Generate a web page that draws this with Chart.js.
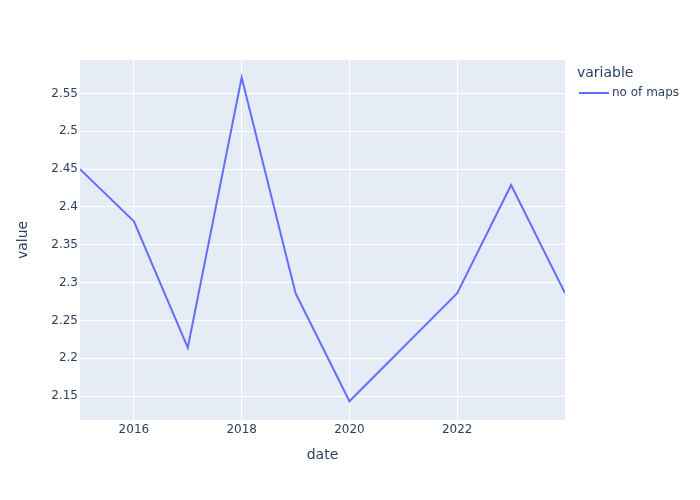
<!DOCTYPE html>
<html>
<head>
<meta charset="utf-8">
<script src="https://cdn.jsdelivr.net/npm/chart.js@4/dist/chart.umd.min.js"></script>
<style>
  html, body { margin: 0; padding: 0; background: #fff; }
  #wrap { width: 700px; height: 500px; position: relative; }
</style>
</head>
<body>
<div id="wrap"><canvas id="c" width="700" height="500"></canvas></div>
<script>
const years = [2015, 2016, 2017, 2018, 2019, 2020, 2022, 2023, 2024];
const noOfMaps = [2.45, 2.381, 2.214, 2.571, 2.286, 2.143, 2.286, 2.429, 2.286];
const xTicks = [2016, 2018, 2020, 2022];
const yTicks = [2.15, 2.2, 2.25, 2.3, 2.35, 2.4, 2.45, 2.5, 2.55];
const seriesName = 'no of maps';
const legendTitle = 'variable';
const xTitle = 'date';
const yTitle = 'value';

const FONT = '"DejaVu Sans", "Open Sans", sans-serif';
const TEXT = '#2a3f5f';

const deco = {
  id: 'deco',
  beforeDraw(chart) {
    const { ctx, chartArea: a } = chart;
    ctx.save();
    ctx.fillStyle = '#E5ECF6';
    ctx.fillRect(a.left, a.top, a.right - a.left, a.bottom - a.top);
    ctx.restore();
  },
  afterDraw(chart) {
    const { ctx, chartArea: a } = chart;
    ctx.save();
    ctx.fillStyle = TEXT;
    ctx.font = '14px ' + FONT;
    ctx.textAlign = 'center';
    ctx.textBaseline = 'middle';
    ctx.fillText(xTitle, (a.left + a.right) / 2, 455);
    ctx.save();
    ctx.translate(23, (a.top + a.bottom) / 2);
    ctx.rotate(-Math.PI / 2);
    ctx.fillText(yTitle, 0, 0);
    ctx.restore();
    // legend
    ctx.textAlign = 'left';
    ctx.font = '14px ' + FONT;
    ctx.fillText(legendTitle, 577, 73);
    const ds = chart.data.datasets[0];
    ctx.strokeStyle = ds.borderColor;
    ctx.lineWidth = 2;
    ctx.beginPath();
    ctx.moveTo(579, 93);
    ctx.lineTo(609, 93);
    ctx.stroke();
    ctx.font = '12px ' + FONT;
    ctx.fillText(ds.label, 612, 93);
    ctx.restore();
  }
};

new Chart(document.getElementById('c'), {
  type: 'line',
  data: {
    datasets: [{
      label: seriesName,
      data: years.map((y, i) => ({ x: y, y: noOfMaps[i] })),
      borderColor: '#636efa',
      backgroundColor: '#636efa',
      borderWidth: 2,
      pointRadius: 0,
      tension: 0,
      fill: false
    }]
  },
  options: {
    responsive: false,
    animation: false,
    devicePixelRatio: 1,
    layout: { padding: { left: 0, right: 135, top: 60, bottom: 0 } },
    plugins: { legend: { display: false }, tooltip: { enabled: false } },
    scales: {
      x: {
        type: 'linear',
        min: 2015,
        max: 2024,
        afterBuildTicks(scale) { scale.ticks = xTicks.map(v => ({ value: v })); },
        afterFit(scale) { scale.height = 80; },
        border: { display: false },
        grid: { color: '#ffffff', lineWidth: 1, drawTicks: false },
        ticks: {
          padding: 3,
          color: TEXT,
          font: { family: FONT, size: 12 },
          maxRotation: 0,
          callback: v => String(v)
        }
      },
      y: {
        min: 2.1183,
        max: 2.5943,
        afterBuildTicks(scale) { scale.ticks = yTicks.map(v => ({ value: v })); },
        afterFit(scale) { scale.width = 80; },
        border: { display: false },
        grid: { color: '#ffffff', lineWidth: 1, drawTicks: false },
        ticks: {
          padding: 2,
          color: TEXT,
          font: { family: FONT, size: 12 },
          callback: v => String(parseFloat(Number(v).toFixed(2)))
        }
      }
    }
  },
  plugins: [deco]
});
</script>
</body>
</html>
